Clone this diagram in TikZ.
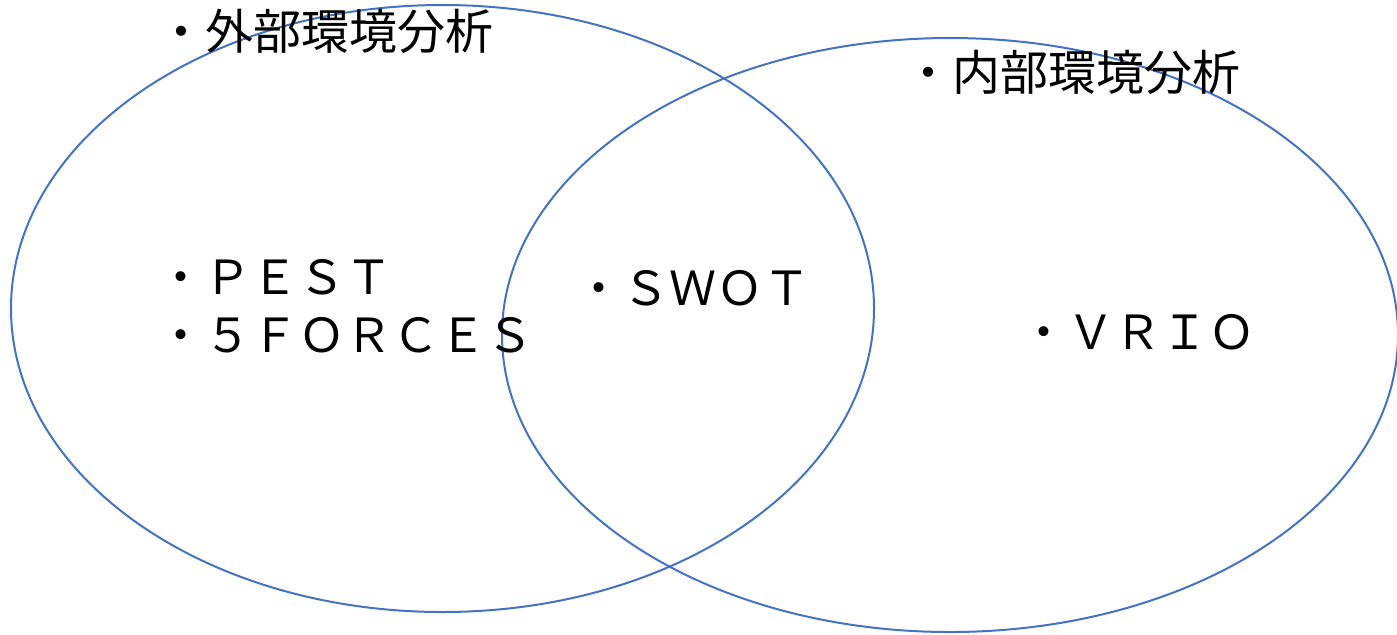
\documentclass[tikz,border=0pt]{standalone}
\usepackage{fontspec}
\newfontfamily\jpfont{Noto Sans CJK JP}
\definecolor{vennblue}{RGB}{68,114,196}
\begin{document}
\begin{tikzpicture}[x=0.5pt,y=-0.5pt,
  venn/.style={draw=vennblue,line width=1pt},
  lbl/.style={anchor=west,inner sep=0pt,font=\jpfont\fontsize{23.5pt}{26pt}\selectfont,text=black},
  ttl/.style={lbl,font=\jpfont\fontsize{24pt}{27pt}\selectfont}]
\useasboundingbox (0,0) rectangle (1397,634);
\begin{scope}
\clip (0,0) rectangle (1397,634);
\draw[venn] (442.5,308.5) ellipse [x radius=431.5, y radius=303.5];
\draw[venn] (950,335) ellipse [x radius=448, y radius=297];
\end{scope}
\node[ttl] (ext) at (157,31) {・外部環境分析};
\node[ttl] (int) at (904,72) {・内部環境分析};
\node[lbl] (pest) at (157,277) {・ＰＥＳＴ};
\node[lbl] (five) at (157,335) {・５ＦＯＲＣＥＳ};
\node[lbl] (swot) at (575,288) {・ＳＷＯＴ};
\node[lbl] (vrio) at (1020,332) {・ＶＲＩＯ};
\end{tikzpicture}
\end{document}
